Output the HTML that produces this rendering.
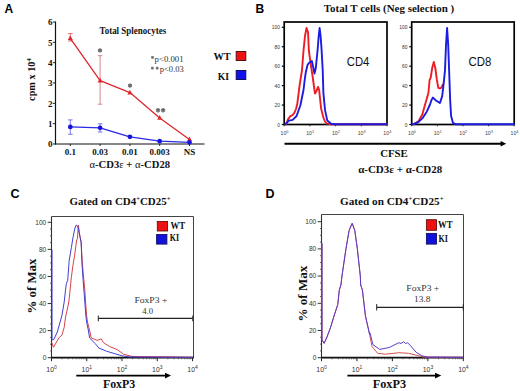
<!DOCTYPE html>
<html><head><meta charset="utf-8"><style>
html,body{margin:0;padding:0;background:#fff;width:520px;height:391px;overflow:hidden;font-family:"Liberation Sans",sans-serif;}
svg{display:block;}
</style></head><body>
<svg width="520" height="391" viewBox="0 0 520 391">
<text x="4.6" y="12.8" font-family='"Liberation Sans", sans-serif' font-size="12" font-weight="bold" text-anchor="start" fill="#000" >A</text>
<text x="255.6" y="13.2" font-family='"Liberation Sans", sans-serif' font-size="12" font-weight="bold" text-anchor="start" fill="#000" >B</text>
<text x="10.4" y="198.0" font-family='"Liberation Sans", sans-serif' font-size="12.5" font-weight="bold" text-anchor="start" fill="#000" >C</text>
<text x="265.4" y="197.7" font-family='"Liberation Sans", sans-serif' font-size="12.5" font-weight="bold" text-anchor="start" fill="#000" >D</text>
<line x1="55.5" y1="21.5" x2="55.5" y2="144.5" stroke="#111" stroke-width="1.2" />
<line x1="55.0" y1="144.0" x2="204.5" y2="144.0" stroke="#111" stroke-width="1.2" />
<line x1="52.8" y1="144.0" x2="55.5" y2="144.0" stroke="#222" stroke-width="1" />
<text x="52.6" y="147.2" font-family='"Liberation Serif", serif' font-size="9" font-weight="bold" text-anchor="end" fill="#111" >0</text>
<line x1="52.8" y1="123.67" x2="55.5" y2="123.67" stroke="#222" stroke-width="1" />
<text x="52.6" y="126.87" font-family='"Liberation Serif", serif' font-size="9" font-weight="bold" text-anchor="end" fill="#111" >1</text>
<line x1="52.8" y1="103.34" x2="55.5" y2="103.34" stroke="#222" stroke-width="1" />
<text x="52.6" y="106.54" font-family='"Liberation Serif", serif' font-size="9" font-weight="bold" text-anchor="end" fill="#111" >2</text>
<line x1="52.8" y1="83.01" x2="55.5" y2="83.01" stroke="#222" stroke-width="1" />
<text x="52.6" y="86.21000000000001" font-family='"Liberation Serif", serif' font-size="9" font-weight="bold" text-anchor="end" fill="#111" >3</text>
<line x1="52.8" y1="62.68000000000001" x2="55.5" y2="62.68000000000001" stroke="#222" stroke-width="1" />
<text x="52.6" y="65.88000000000001" font-family='"Liberation Serif", serif' font-size="9" font-weight="bold" text-anchor="end" fill="#111" >4</text>
<line x1="52.8" y1="42.35000000000001" x2="55.5" y2="42.35000000000001" stroke="#222" stroke-width="1" />
<text x="52.6" y="45.55000000000001" font-family='"Liberation Serif", serif' font-size="9" font-weight="bold" text-anchor="end" fill="#111" >5</text>
<line x1="52.8" y1="22.02000000000001" x2="55.5" y2="22.02000000000001" stroke="#222" stroke-width="1" />
<text x="52.6" y="25.22000000000001" font-family='"Liberation Serif", serif' font-size="9" font-weight="bold" text-anchor="end" fill="#111" >6</text>
<line x1="70.3" y1="144.0" x2="70.3" y2="146.0" stroke="#222" stroke-width="1" />
<text x="70.3" y="155.2" font-family='"Liberation Serif", serif' font-size="9" font-weight="bold" text-anchor="middle" fill="#111" >0.1</text>
<line x1="100.1" y1="144.0" x2="100.1" y2="146.0" stroke="#222" stroke-width="1" />
<text x="100.1" y="155.2" font-family='"Liberation Serif", serif' font-size="9" font-weight="bold" text-anchor="middle" fill="#111" >0.03</text>
<line x1="129.9" y1="144.0" x2="129.9" y2="146.0" stroke="#222" stroke-width="1" />
<text x="129.9" y="155.2" font-family='"Liberation Serif", serif' font-size="9" font-weight="bold" text-anchor="middle" fill="#111" >0.01</text>
<line x1="159.7" y1="144.0" x2="159.7" y2="146.0" stroke="#222" stroke-width="1" />
<text x="159.7" y="155.2" font-family='"Liberation Serif", serif' font-size="9" font-weight="bold" text-anchor="middle" fill="#111" >0.003</text>
<line x1="189.5" y1="144.0" x2="189.5" y2="146.0" stroke="#222" stroke-width="1" />
<text x="189.5" y="155.2" font-family='"Liberation Serif", serif' font-size="9" font-weight="bold" text-anchor="middle" fill="#111" >NS</text>
<text x="89.5" y="167.9" font-family='"Liberation Serif", serif' font-size="10" font-weight="bold" text-anchor="start" fill="#111" textLength="80.5" lengthAdjust="spacingAndGlyphs" ><tspan font-weight="normal">&#945;</tspan>-CD3<tspan font-weight="normal">&#949;</tspan> + <tspan font-weight="normal">&#945;</tspan>-CD28</text>
<text x="99.5" y="33.8" font-family='"Liberation Serif", serif' font-size="9.5" font-weight="bold" text-anchor="start" fill="#111" textLength="66.7" lengthAdjust="spacingAndGlyphs" >Total Splenocytes</text>
<text x="154.6" y="61.8" font-family='"Liberation Serif", serif' font-size="8.5" font-weight="normal" text-anchor="start" fill="#333" textLength="29.0" lengthAdjust="spacingAndGlyphs" >p&lt;0.001</text>
<text x="159.8" y="72.1" font-family='"Liberation Serif", serif' font-size="8.5" font-weight="normal" text-anchor="start" fill="#333" textLength="24.0" lengthAdjust="spacingAndGlyphs" >p&lt;0.03</text>
<text x="213.5" y="60.0" font-family='"Liberation Serif", serif' font-size="10.5" font-weight="bold" text-anchor="start" fill="#111" textLength="17.3" lengthAdjust="spacingAndGlyphs" >WT</text>
<text x="217.7" y="79.7" font-family='"Liberation Serif", serif' font-size="10.5" font-weight="bold" text-anchor="start" fill="#111" textLength="11.3" lengthAdjust="spacingAndGlyphs" >KI</text>
<rect x="236.2" y="51.5" width="9.6" height="9.0" fill="#ee1111" stroke="#551111" stroke-width="1"/>
<rect x="236.2" y="70.5" width="9.6" height="9.0" fill="#1111ee" stroke="#111155" stroke-width="1"/>
<line x1="70.3" y1="33.6" x2="70.3" y2="41" stroke="#e06066" stroke-width="0.9" />
<line x1="68.0" y1="33.6" x2="72.6" y2="33.6" stroke="#e06066" stroke-width="0.9" />
<line x1="68.0" y1="41" x2="72.6" y2="41" stroke="#e06066" stroke-width="0.9" />
<line x1="100.1" y1="55.7" x2="100.1" y2="104.2" stroke="#d07a80" stroke-width="0.9" />
<line x1="97.8" y1="55.7" x2="102.39999999999999" y2="55.7" stroke="#d07a80" stroke-width="0.9" />
<line x1="97.8" y1="104.2" x2="102.39999999999999" y2="104.2" stroke="#d07a80" stroke-width="0.9" />
<line x1="70.3" y1="119.9" x2="70.3" y2="134.3" stroke="#6a6ae6" stroke-width="0.9" />
<line x1="68.0" y1="119.9" x2="72.6" y2="119.9" stroke="#6a6ae6" stroke-width="0.9" />
<line x1="68.0" y1="134.3" x2="72.6" y2="134.3" stroke="#6a6ae6" stroke-width="0.9" />
<line x1="100.1" y1="123.8" x2="100.1" y2="132.0" stroke="#6a6ae6" stroke-width="0.9" />
<line x1="97.8" y1="123.8" x2="102.39999999999999" y2="123.8" stroke="#6a6ae6" stroke-width="0.9" />
<line x1="97.8" y1="132.0" x2="102.39999999999999" y2="132.0" stroke="#6a6ae6" stroke-width="0.9" />
<polyline points="70.3,38.3 100.1,80.6 129.9,92.6 159.7,118.0 189.5,139.5" fill="none" stroke="#e0262c" stroke-width="1.3" stroke-linejoin="round" stroke-linecap="round" />
<polyline points="70.3,126.9 100.1,127.8 129.9,136.8 159.7,141.2 189.5,142.3" fill="none" stroke="#2a2ae6" stroke-width="1.3" stroke-linejoin="round" stroke-linecap="round" />
<polygon points="70.3,35.4 67.8,40.099999999999994 72.8,40.099999999999994" fill="#e0262c"/>
<polygon points="100.1,77.69999999999999 97.6,82.39999999999999 102.6,82.39999999999999" fill="#e0262c"/>
<polygon points="129.9,89.69999999999999 127.4,94.39999999999999 132.4,94.39999999999999" fill="#e0262c"/>
<polygon points="159.7,115.1 157.2,119.8 162.2,119.8" fill="#e0262c"/>
<polygon points="189.5,136.6 187.0,141.3 192.0,141.3" fill="#e0262c"/>
<circle cx="70.3" cy="126.9" r="2.35" fill="#1515dd"/>
<circle cx="100.1" cy="127.8" r="2.35" fill="#1515dd"/>
<circle cx="129.9" cy="136.8" r="2.35" fill="#1515dd"/>
<circle cx="159.7" cy="141.2" r="2.35" fill="#1515dd"/>
<circle cx="189.5" cy="142.3" r="2.35" fill="#1515dd"/>
<line x1="100.0" y1="48.199999999999996" x2="100.0" y2="52.6" stroke="#6a6a6a" stroke-width="1.5" />
<line x1="98.09474411167423" y1="49.3" x2="101.90525588832577" y2="51.5" stroke="#6a6a6a" stroke-width="1.5" />
<line x1="101.90525588832577" y1="49.3" x2="98.09474411167423" y2="51.5" stroke="#6a6a6a" stroke-width="1.5" />
<line x1="130.0" y1="83.39999999999999" x2="130.0" y2="87.8" stroke="#6a6a6a" stroke-width="1.5" />
<line x1="128.09474411167423" y1="84.5" x2="131.90525588832577" y2="86.69999999999999" stroke="#6a6a6a" stroke-width="1.5" />
<line x1="131.90525588832577" y1="84.5" x2="128.09474411167423" y2="86.69999999999999" stroke="#6a6a6a" stroke-width="1.5" />
<line x1="158.0" y1="108.1" x2="158.0" y2="112.5" stroke="#6a6a6a" stroke-width="1.5" />
<line x1="156.09474411167423" y1="109.2" x2="159.90525588832577" y2="111.39999999999999" stroke="#6a6a6a" stroke-width="1.5" />
<line x1="159.90525588832577" y1="109.2" x2="156.09474411167423" y2="111.39999999999999" stroke="#6a6a6a" stroke-width="1.5" />
<line x1="163.1" y1="108.1" x2="163.1" y2="112.5" stroke="#6a6a6a" stroke-width="1.5" />
<line x1="161.19474411167423" y1="109.2" x2="165.00525588832576" y2="111.39999999999999" stroke="#6a6a6a" stroke-width="1.5" />
<line x1="165.00525588832576" y1="109.2" x2="161.19474411167423" y2="111.39999999999999" stroke="#6a6a6a" stroke-width="1.5" />
<line x1="152.5" y1="56.05" x2="152.5" y2="58.75" stroke="#777" stroke-width="1.5" />
<line x1="151.330865704891" y1="56.725" x2="153.669134295109" y2="58.074999999999996" stroke="#777" stroke-width="1.5" />
<line x1="153.669134295109" y1="56.725" x2="151.330865704891" y2="58.074999999999996" stroke="#777" stroke-width="1.5" />
<line x1="152.4" y1="66.75" x2="152.4" y2="69.44999999999999" stroke="#777" stroke-width="1.5" />
<line x1="151.23086570489102" y1="67.425" x2="153.569134295109" y2="68.77499999999999" stroke="#777" stroke-width="1.5" />
<line x1="153.569134295109" y1="67.425" x2="151.23086570489102" y2="68.77499999999999" stroke="#777" stroke-width="1.5" />
<line x1="157.2" y1="66.75" x2="157.2" y2="69.44999999999999" stroke="#777" stroke-width="1.5" />
<line x1="156.030865704891" y1="67.425" x2="158.36913429510898" y2="68.77499999999999" stroke="#777" stroke-width="1.5" />
<line x1="158.36913429510898" y1="67.425" x2="156.030865704891" y2="68.77499999999999" stroke="#777" stroke-width="1.5" />
<text transform="translate(35.3,100.9) rotate(-90)" font-family='"Liberation Serif", serif' font-size="10.5" font-weight="bold" fill="#111" textLength="42.5" lengthAdjust="spacingAndGlyphs">cpm x 10<tspan font-size="6.5" dy="-4">4</tspan></text>
<text x="323.8" y="11.5" font-family='"Liberation Serif", serif' font-size="10.5" font-weight="bold" text-anchor="start" fill="#111" textLength="130.4" lengthAdjust="spacingAndGlyphs" >Total T cells (Neg selection )</text>
<rect x="284.2" y="22.0" width="102.80000000000001" height="102.5" fill="none" stroke="#000" stroke-width="1.7"/>
<line x1="281.8" y1="124.5" x2="284.2" y2="124.5" stroke="#000" stroke-width="1.2" />
<text x="279.9" y="126.6" font-family='"Liberation Sans", sans-serif' font-size="4.9" font-weight="normal" text-anchor="end" fill="#333" >0</text>
<line x1="281.8" y1="105.06" x2="284.2" y2="105.06" stroke="#000" stroke-width="1.2" />
<text x="279.9" y="107.16" font-family='"Liberation Sans", sans-serif' font-size="4.9" font-weight="normal" text-anchor="end" fill="#333" >20</text>
<line x1="281.8" y1="85.62" x2="284.2" y2="85.62" stroke="#000" stroke-width="1.2" />
<text x="279.9" y="87.72" font-family='"Liberation Sans", sans-serif' font-size="4.9" font-weight="normal" text-anchor="end" fill="#333" >40</text>
<line x1="281.8" y1="66.18" x2="284.2" y2="66.18" stroke="#000" stroke-width="1.2" />
<text x="279.9" y="68.28" font-family='"Liberation Sans", sans-serif' font-size="4.9" font-weight="normal" text-anchor="end" fill="#333" >60</text>
<line x1="281.8" y1="46.74000000000001" x2="284.2" y2="46.74000000000001" stroke="#000" stroke-width="1.2" />
<text x="279.9" y="48.84000000000001" font-family='"Liberation Sans", sans-serif' font-size="4.9" font-weight="normal" text-anchor="end" fill="#333" >80</text>
<line x1="281.8" y1="27.299999999999997" x2="284.2" y2="27.299999999999997" stroke="#000" stroke-width="1.2" />
<text x="279.9" y="29.4" font-family='"Liberation Sans", sans-serif' font-size="4.9" font-weight="normal" text-anchor="end" fill="#333" >100</text>
<line x1="284.2" y1="124.5" x2="284.2" y2="126.3" stroke="#000" stroke-width="0.8" />
<text x="284.5" y="135.0" font-family='"Liberation Sans", sans-serif' font-size="5.2" fill="#444" text-anchor="middle">10<tspan font-size="3.8" dy="-2.4">0</tspan></text>
<line x1="309.9" y1="124.5" x2="309.9" y2="126.3" stroke="#000" stroke-width="0.8" />
<text x="310.2" y="135.0" font-family='"Liberation Sans", sans-serif' font-size="5.2" fill="#444" text-anchor="middle">10<tspan font-size="3.8" dy="-2.4">1</tspan></text>
<line x1="335.6" y1="124.5" x2="335.6" y2="126.3" stroke="#000" stroke-width="0.8" />
<text x="335.90000000000003" y="135.0" font-family='"Liberation Sans", sans-serif' font-size="5.2" fill="#444" text-anchor="middle">10<tspan font-size="3.8" dy="-2.4">2</tspan></text>
<line x1="361.3" y1="124.5" x2="361.3" y2="126.3" stroke="#000" stroke-width="0.8" />
<text x="361.6" y="135.0" font-family='"Liberation Sans", sans-serif' font-size="5.2" fill="#444" text-anchor="middle">10<tspan font-size="3.8" dy="-2.4">3</tspan></text>
<line x1="387.0" y1="124.5" x2="387.0" y2="126.3" stroke="#000" stroke-width="0.8" />
<text x="387.3" y="135.0" font-family='"Liberation Sans", sans-serif' font-size="5.2" fill="#444" text-anchor="middle">10<tspan font-size="3.8" dy="-2.4">4</tspan></text>
<rect x="411.7" y="22.0" width="102.50000000000006" height="102.5" fill="none" stroke="#000" stroke-width="1.7"/>
<line x1="409.3" y1="124.5" x2="411.7" y2="124.5" stroke="#000" stroke-width="1.2" />
<text x="407.4" y="126.6" font-family='"Liberation Sans", sans-serif' font-size="4.9" font-weight="normal" text-anchor="end" fill="#333" >0</text>
<line x1="409.3" y1="105.06" x2="411.7" y2="105.06" stroke="#000" stroke-width="1.2" />
<text x="407.4" y="107.16" font-family='"Liberation Sans", sans-serif' font-size="4.9" font-weight="normal" text-anchor="end" fill="#333" >20</text>
<line x1="409.3" y1="85.62" x2="411.7" y2="85.62" stroke="#000" stroke-width="1.2" />
<text x="407.4" y="87.72" font-family='"Liberation Sans", sans-serif' font-size="4.9" font-weight="normal" text-anchor="end" fill="#333" >40</text>
<line x1="409.3" y1="66.18" x2="411.7" y2="66.18" stroke="#000" stroke-width="1.2" />
<text x="407.4" y="68.28" font-family='"Liberation Sans", sans-serif' font-size="4.9" font-weight="normal" text-anchor="end" fill="#333" >60</text>
<line x1="409.3" y1="46.74000000000001" x2="411.7" y2="46.74000000000001" stroke="#000" stroke-width="1.2" />
<text x="407.4" y="48.84000000000001" font-family='"Liberation Sans", sans-serif' font-size="4.9" font-weight="normal" text-anchor="end" fill="#333" >80</text>
<line x1="409.3" y1="27.299999999999997" x2="411.7" y2="27.299999999999997" stroke="#000" stroke-width="1.2" />
<text x="407.4" y="29.4" font-family='"Liberation Sans", sans-serif' font-size="4.9" font-weight="normal" text-anchor="end" fill="#333" >100</text>
<line x1="411.7" y1="124.5" x2="411.7" y2="126.3" stroke="#000" stroke-width="0.8" />
<text x="412.0" y="135.0" font-family='"Liberation Sans", sans-serif' font-size="5.2" fill="#444" text-anchor="middle">10<tspan font-size="3.8" dy="-2.4">0</tspan></text>
<line x1="437.325" y1="124.5" x2="437.325" y2="126.3" stroke="#000" stroke-width="0.8" />
<text x="437.625" y="135.0" font-family='"Liberation Sans", sans-serif' font-size="5.2" fill="#444" text-anchor="middle">10<tspan font-size="3.8" dy="-2.4">1</tspan></text>
<line x1="462.95000000000005" y1="124.5" x2="462.95000000000005" y2="126.3" stroke="#000" stroke-width="0.8" />
<text x="463.25000000000006" y="135.0" font-family='"Liberation Sans", sans-serif' font-size="5.2" fill="#444" text-anchor="middle">10<tspan font-size="3.8" dy="-2.4">2</tspan></text>
<line x1="488.57500000000005" y1="124.5" x2="488.57500000000005" y2="126.3" stroke="#000" stroke-width="0.8" />
<text x="488.87500000000006" y="135.0" font-family='"Liberation Sans", sans-serif' font-size="5.2" fill="#444" text-anchor="middle">10<tspan font-size="3.8" dy="-2.4">3</tspan></text>
<line x1="514.2" y1="124.5" x2="514.2" y2="126.3" stroke="#000" stroke-width="0.8" />
<text x="514.5" y="135.0" font-family='"Liberation Sans", sans-serif' font-size="5.2" fill="#444" text-anchor="middle">10<tspan font-size="3.8" dy="-2.4">4</tspan></text>
<text x="346.8" y="65.9" font-family='"Liberation Sans", sans-serif' font-size="13.7" font-weight="normal" text-anchor="start" fill="#111" textLength="22.6" lengthAdjust="spacingAndGlyphs" >CD4</text>
<text x="468.4" y="66.0" font-family='"Liberation Sans", sans-serif' font-size="13.7" font-weight="normal" text-anchor="start" fill="#111" textLength="22.9" lengthAdjust="spacingAndGlyphs" >CD8</text>
<polyline points="285.5,124.2 286.6,123.4 288.1,119.1 290.4,116.2 292.5,115.2 294.3,113.0 296.0,109.0 297.3,103.8 299.6,85.3 302.0,70.0 303.5,50.7 305.0,36.0 306.5,28.0 308.0,32.0 308.9,50.7 310.4,62.0 312.7,77.0 314.2,88.0 315.0,93.5 316.5,91.0 318.0,86.9 319.2,90.0 319.6,94.5 321.1,108.4 323.4,117.6 325.0,121.5 326.5,123.3 330.0,124.2 387.0,124.2" fill="none" stroke="#ee1c24" stroke-width="1.9" stroke-linejoin="round" stroke-linecap="round" />
<polyline points="285.5,124.2 286.6,123.0 288.9,120.6 292.7,119.9 296.6,116.0 300.4,105.3 303.5,90.0 304.7,80.0 305.8,72.2 307.5,65.0 308.9,63.0 311.9,61.1 313.0,66.0 314.5,73.5 315.8,68.0 317.6,50.0 318.7,36.0 319.6,28.0 320.6,36.0 321.6,50.0 322.7,70.0 323.4,93.0 325.0,109.9 327.3,120.6 331.1,123.7 335.0,124.3 387.0,124.3" fill="none" stroke="#1c1ce0" stroke-width="1.9" stroke-linejoin="round" stroke-linecap="round" />
<polyline points="412.5,124.2 414.6,123.7 418.4,121.4 422.3,114.5 425.3,103.8 428.4,93.0 429.6,80.0 430.7,77.7 432.2,68.0 433.8,62.0 435.3,68.0 436.9,80.0 437.6,84.0 438.4,88.0 440.0,88.4 441.5,87.6 442.8,84.5" fill="none" stroke="#ee1c24" stroke-width="1.9" stroke-linejoin="round" stroke-linecap="round" />
<polyline points="412.5,124.3 413.8,124.0 418.4,122.2 423.0,117.6 426.9,111.4 430.0,104.5 431.5,100.0 433.0,97.6 435.3,99.9 437.5,101.5 439.9,103.0 442.2,96.1 443.8,82.3 445.0,70.0 446.0,45.0 447.1,28.0 448.2,45.0 449.1,70.0 450.2,100.7 451.1,116.0 453.0,122.9 456.0,124.3 514.0,124.3" fill="none" stroke="#1c1ce0" stroke-width="1.9" stroke-linejoin="round" stroke-linecap="round" />
<line x1="284.5" y1="143.75" x2="501" y2="143.75" stroke="#000" stroke-width="1.9" />
<polygon points="500.6,141.1 506.2,143.75 500.6,146.4" fill="#000"/>
<text x="380.2" y="157.4" font-family='"Liberation Serif", serif' font-size="11.4" font-weight="bold" text-anchor="start" fill="#111" textLength="27.6" lengthAdjust="spacingAndGlyphs" >CFSE</text>
<text x="358.2" y="172.5" font-family='"Liberation Serif", serif' font-size="10" font-weight="bold" text-anchor="start" fill="#111" textLength="84" lengthAdjust="spacingAndGlyphs" >&#945;-CD3&#949; + &#945;-CD28</text>
<polyline points="51.5,216.5 193.5,216.5 193.5,357.7" fill="none" stroke="#444" stroke-width="1"/>
<line x1="51.5" y1="216.5" x2="51.5" y2="357.7" stroke="#333" stroke-width="1.1" />
<line x1="51.0" y1="357.7" x2="194.0" y2="357.7" stroke="#111" stroke-width="1.8" />
<line x1="47.7" y1="357.7" x2="51.5" y2="357.7" stroke="#333" stroke-width="1" />
<text x="46.3" y="360.0" font-family='"Liberation Sans", sans-serif' font-size="6.6" font-weight="normal" text-anchor="end" fill="#333" >0</text>
<line x1="47.7" y1="330.62" x2="51.5" y2="330.62" stroke="#333" stroke-width="1" />
<text x="46.3" y="332.92" font-family='"Liberation Sans", sans-serif' font-size="6.6" font-weight="normal" text-anchor="end" fill="#333" >20</text>
<line x1="47.7" y1="303.53999999999996" x2="51.5" y2="303.53999999999996" stroke="#333" stroke-width="1" />
<text x="46.3" y="305.84" font-family='"Liberation Sans", sans-serif' font-size="6.6" font-weight="normal" text-anchor="end" fill="#333" >40</text>
<line x1="47.7" y1="276.46" x2="51.5" y2="276.46" stroke="#333" stroke-width="1" />
<text x="46.3" y="278.76" font-family='"Liberation Sans", sans-serif' font-size="6.6" font-weight="normal" text-anchor="end" fill="#333" >60</text>
<line x1="47.7" y1="249.38" x2="51.5" y2="249.38" stroke="#333" stroke-width="1" />
<text x="46.3" y="251.68" font-family='"Liberation Sans", sans-serif' font-size="6.6" font-weight="normal" text-anchor="end" fill="#333" >80</text>
<line x1="47.7" y1="222.3" x2="51.5" y2="222.3" stroke="#333" stroke-width="1" />
<text x="46.3" y="224.60000000000002" font-family='"Liberation Sans", sans-serif' font-size="6.6" font-weight="normal" text-anchor="end" fill="#333" >100</text>
<line x1="50.0" y1="350.93" x2="51.5" y2="350.93" stroke="#444" stroke-width="0.8" />
<line x1="50.0" y1="344.15999999999997" x2="51.5" y2="344.15999999999997" stroke="#444" stroke-width="0.8" />
<line x1="50.0" y1="337.39" x2="51.5" y2="337.39" stroke="#444" stroke-width="0.8" />
<line x1="50.0" y1="323.85" x2="51.5" y2="323.85" stroke="#444" stroke-width="0.8" />
<line x1="50.0" y1="317.08" x2="51.5" y2="317.08" stroke="#444" stroke-width="0.8" />
<line x1="50.0" y1="310.31" x2="51.5" y2="310.31" stroke="#444" stroke-width="0.8" />
<line x1="50.0" y1="296.77" x2="51.5" y2="296.77" stroke="#444" stroke-width="0.8" />
<line x1="50.0" y1="290.0" x2="51.5" y2="290.0" stroke="#444" stroke-width="0.8" />
<line x1="50.0" y1="283.23" x2="51.5" y2="283.23" stroke="#444" stroke-width="0.8" />
<line x1="50.0" y1="269.69" x2="51.5" y2="269.69" stroke="#444" stroke-width="0.8" />
<line x1="50.0" y1="262.92" x2="51.5" y2="262.92" stroke="#444" stroke-width="0.8" />
<line x1="50.0" y1="256.15" x2="51.5" y2="256.15" stroke="#444" stroke-width="0.8" />
<line x1="50.0" y1="242.61" x2="51.5" y2="242.61" stroke="#444" stroke-width="0.8" />
<line x1="50.0" y1="235.84" x2="51.5" y2="235.84" stroke="#444" stroke-width="0.8" />
<line x1="50.0" y1="229.07" x2="51.5" y2="229.07" stroke="#444" stroke-width="0.8" />
<line x1="51.5" y1="357.7" x2="51.5" y2="361.2" stroke="#222" stroke-width="1" />
<text x="51.6" y="372.3" font-family='"Liberation Sans", sans-serif' font-size="6.9" fill="#333" text-anchor="middle">10<tspan font-size="5" dy="-3.2">0</tspan></text>
<line x1="62.11130734715534" y1="357.7" x2="62.11130734715534" y2="359.3" stroke="#333" stroke-width="0.7" />
<line x1="68.3185242288681" y1="357.7" x2="68.3185242288681" y2="359.3" stroke="#333" stroke-width="0.7" />
<line x1="72.72261469431068" y1="357.7" x2="72.72261469431068" y2="359.3" stroke="#333" stroke-width="0.7" />
<line x1="76.13869265284467" y1="357.7" x2="76.13869265284467" y2="359.3" stroke="#333" stroke-width="0.7" />
<line x1="78.92983157602345" y1="357.7" x2="78.92983157602345" y2="359.3" stroke="#333" stroke-width="0.7" />
<line x1="81.28970591050255" y1="357.7" x2="81.28970591050255" y2="359.3" stroke="#333" stroke-width="0.7" />
<line x1="83.33392204146601" y1="357.7" x2="83.33392204146601" y2="359.3" stroke="#333" stroke-width="0.7" />
<line x1="85.1370484577362" y1="357.7" x2="85.1370484577362" y2="359.3" stroke="#333" stroke-width="0.7" />
<line x1="86.75" y1="357.7" x2="86.75" y2="361.2" stroke="#222" stroke-width="1" />
<text x="86.85" y="372.3" font-family='"Liberation Sans", sans-serif' font-size="6.9" fill="#333" text-anchor="middle">10<tspan font-size="5" dy="-3.2">1</tspan></text>
<line x1="97.36130734715533" y1="357.7" x2="97.36130734715533" y2="359.3" stroke="#333" stroke-width="0.7" />
<line x1="103.5685242288681" y1="357.7" x2="103.5685242288681" y2="359.3" stroke="#333" stroke-width="0.7" />
<line x1="107.97261469431068" y1="357.7" x2="107.97261469431068" y2="359.3" stroke="#333" stroke-width="0.7" />
<line x1="111.38869265284467" y1="357.7" x2="111.38869265284467" y2="359.3" stroke="#333" stroke-width="0.7" />
<line x1="114.17983157602345" y1="357.7" x2="114.17983157602345" y2="359.3" stroke="#333" stroke-width="0.7" />
<line x1="116.53970591050255" y1="357.7" x2="116.53970591050255" y2="359.3" stroke="#333" stroke-width="0.7" />
<line x1="118.58392204146601" y1="357.7" x2="118.58392204146601" y2="359.3" stroke="#333" stroke-width="0.7" />
<line x1="120.3870484577362" y1="357.7" x2="120.3870484577362" y2="359.3" stroke="#333" stroke-width="0.7" />
<line x1="122.0" y1="357.7" x2="122.0" y2="361.2" stroke="#222" stroke-width="1" />
<text x="122.1" y="372.3" font-family='"Liberation Sans", sans-serif' font-size="6.9" fill="#333" text-anchor="middle">10<tspan font-size="5" dy="-3.2">2</tspan></text>
<line x1="132.61130734715533" y1="357.7" x2="132.61130734715533" y2="359.3" stroke="#333" stroke-width="0.7" />
<line x1="138.8185242288681" y1="357.7" x2="138.8185242288681" y2="359.3" stroke="#333" stroke-width="0.7" />
<line x1="143.22261469431066" y1="357.7" x2="143.22261469431066" y2="359.3" stroke="#333" stroke-width="0.7" />
<line x1="146.63869265284467" y1="357.7" x2="146.63869265284467" y2="359.3" stroke="#333" stroke-width="0.7" />
<line x1="149.42983157602345" y1="357.7" x2="149.42983157602345" y2="359.3" stroke="#333" stroke-width="0.7" />
<line x1="151.78970591050256" y1="357.7" x2="151.78970591050256" y2="359.3" stroke="#333" stroke-width="0.7" />
<line x1="153.833922041466" y1="357.7" x2="153.833922041466" y2="359.3" stroke="#333" stroke-width="0.7" />
<line x1="155.6370484577362" y1="357.7" x2="155.6370484577362" y2="359.3" stroke="#333" stroke-width="0.7" />
<line x1="157.25" y1="357.7" x2="157.25" y2="361.2" stroke="#222" stroke-width="1" />
<text x="157.35" y="372.3" font-family='"Liberation Sans", sans-serif' font-size="6.9" fill="#333" text-anchor="middle">10<tspan font-size="5" dy="-3.2">3</tspan></text>
<line x1="167.86130734715533" y1="357.7" x2="167.86130734715533" y2="359.3" stroke="#333" stroke-width="0.7" />
<line x1="174.0685242288681" y1="357.7" x2="174.0685242288681" y2="359.3" stroke="#333" stroke-width="0.7" />
<line x1="178.47261469431066" y1="357.7" x2="178.47261469431066" y2="359.3" stroke="#333" stroke-width="0.7" />
<line x1="181.88869265284467" y1="357.7" x2="181.88869265284467" y2="359.3" stroke="#333" stroke-width="0.7" />
<line x1="184.67983157602345" y1="357.7" x2="184.67983157602345" y2="359.3" stroke="#333" stroke-width="0.7" />
<line x1="187.03970591050256" y1="357.7" x2="187.03970591050256" y2="359.3" stroke="#333" stroke-width="0.7" />
<line x1="189.083922041466" y1="357.7" x2="189.083922041466" y2="359.3" stroke="#333" stroke-width="0.7" />
<line x1="190.8870484577362" y1="357.7" x2="190.8870484577362" y2="359.3" stroke="#333" stroke-width="0.7" />
<line x1="192.5" y1="357.7" x2="192.5" y2="361.2" stroke="#222" stroke-width="1" />
<text x="192.6" y="372.3" font-family='"Liberation Sans", sans-serif' font-size="6.9" fill="#333" text-anchor="middle">10<tspan font-size="5" dy="-3.2">4</tspan></text>
<polyline points="321.5,214.5 463.5,214.5 463.5,357.7" fill="none" stroke="#444" stroke-width="1"/>
<line x1="321.5" y1="214.5" x2="321.5" y2="357.7" stroke="#333" stroke-width="1.1" />
<line x1="321.0" y1="357.7" x2="464.0" y2="357.7" stroke="#111" stroke-width="1.8" />
<line x1="317.7" y1="357.7" x2="321.5" y2="357.7" stroke="#333" stroke-width="1" />
<text x="316.3" y="360.0" font-family='"Liberation Sans", sans-serif' font-size="6.6" font-weight="normal" text-anchor="end" fill="#333" >0</text>
<line x1="317.7" y1="330.5" x2="321.5" y2="330.5" stroke="#333" stroke-width="1" />
<text x="316.3" y="332.8" font-family='"Liberation Sans", sans-serif' font-size="6.6" font-weight="normal" text-anchor="end" fill="#333" >20</text>
<line x1="317.7" y1="303.29999999999995" x2="321.5" y2="303.29999999999995" stroke="#333" stroke-width="1" />
<text x="316.3" y="305.59999999999997" font-family='"Liberation Sans", sans-serif' font-size="6.6" font-weight="normal" text-anchor="end" fill="#333" >40</text>
<line x1="317.7" y1="276.09999999999997" x2="321.5" y2="276.09999999999997" stroke="#333" stroke-width="1" />
<text x="316.3" y="278.4" font-family='"Liberation Sans", sans-serif' font-size="6.6" font-weight="normal" text-anchor="end" fill="#333" >60</text>
<line x1="317.7" y1="248.89999999999998" x2="321.5" y2="248.89999999999998" stroke="#333" stroke-width="1" />
<text x="316.3" y="251.2" font-family='"Liberation Sans", sans-serif' font-size="6.6" font-weight="normal" text-anchor="end" fill="#333" >80</text>
<line x1="317.7" y1="221.7" x2="321.5" y2="221.7" stroke="#333" stroke-width="1" />
<text x="316.3" y="224.0" font-family='"Liberation Sans", sans-serif' font-size="6.6" font-weight="normal" text-anchor="end" fill="#333" >100</text>
<line x1="320.0" y1="350.9" x2="321.5" y2="350.9" stroke="#444" stroke-width="0.8" />
<line x1="320.0" y1="344.09999999999997" x2="321.5" y2="344.09999999999997" stroke="#444" stroke-width="0.8" />
<line x1="320.0" y1="337.3" x2="321.5" y2="337.3" stroke="#444" stroke-width="0.8" />
<line x1="320.0" y1="323.7" x2="321.5" y2="323.7" stroke="#444" stroke-width="0.8" />
<line x1="320.0" y1="316.9" x2="321.5" y2="316.9" stroke="#444" stroke-width="0.8" />
<line x1="320.0" y1="310.09999999999997" x2="321.5" y2="310.09999999999997" stroke="#444" stroke-width="0.8" />
<line x1="320.0" y1="296.5" x2="321.5" y2="296.5" stroke="#444" stroke-width="0.8" />
<line x1="320.0" y1="289.7" x2="321.5" y2="289.7" stroke="#444" stroke-width="0.8" />
<line x1="320.0" y1="282.9" x2="321.5" y2="282.9" stroke="#444" stroke-width="0.8" />
<line x1="320.0" y1="269.29999999999995" x2="321.5" y2="269.29999999999995" stroke="#444" stroke-width="0.8" />
<line x1="320.0" y1="262.5" x2="321.5" y2="262.5" stroke="#444" stroke-width="0.8" />
<line x1="320.0" y1="255.7" x2="321.5" y2="255.7" stroke="#444" stroke-width="0.8" />
<line x1="320.0" y1="242.09999999999997" x2="321.5" y2="242.09999999999997" stroke="#444" stroke-width="0.8" />
<line x1="320.0" y1="235.29999999999998" x2="321.5" y2="235.29999999999998" stroke="#444" stroke-width="0.8" />
<line x1="320.0" y1="228.49999999999997" x2="321.5" y2="228.49999999999997" stroke="#444" stroke-width="0.8" />
<line x1="321.5" y1="357.7" x2="321.5" y2="361.2" stroke="#222" stroke-width="1" />
<text x="321.6" y="372.3" font-family='"Liberation Sans", sans-serif' font-size="6.9" fill="#333" text-anchor="middle">10<tspan font-size="5" dy="-3.2">0</tspan></text>
<line x1="332.1715133462881" y1="357.7" x2="332.1715133462881" y2="359.3" stroke="#333" stroke-width="0.7" />
<line x1="338.413948479812" y1="357.7" x2="338.413948479812" y2="359.3" stroke="#333" stroke-width="0.7" />
<line x1="342.84302669257625" y1="357.7" x2="342.84302669257625" y2="359.3" stroke="#333" stroke-width="0.7" />
<line x1="346.27848665371187" y1="357.7" x2="346.27848665371187" y2="359.3" stroke="#333" stroke-width="0.7" />
<line x1="349.0854618261002" y1="357.7" x2="349.0854618261002" y2="359.3" stroke="#333" stroke-width="0.7" />
<line x1="351.4587255185054" y1="357.7" x2="351.4587255185054" y2="359.3" stroke="#333" stroke-width="0.7" />
<line x1="353.5145400388644" y1="357.7" x2="353.5145400388644" y2="359.3" stroke="#333" stroke-width="0.7" />
<line x1="355.32789695962407" y1="357.7" x2="355.32789695962407" y2="359.3" stroke="#333" stroke-width="0.7" />
<line x1="356.95" y1="357.7" x2="356.95" y2="361.2" stroke="#222" stroke-width="1" />
<text x="357.05" y="372.3" font-family='"Liberation Sans", sans-serif' font-size="6.9" fill="#333" text-anchor="middle">10<tspan font-size="5" dy="-3.2">1</tspan></text>
<line x1="367.6215133462881" y1="357.7" x2="367.6215133462881" y2="359.3" stroke="#333" stroke-width="0.7" />
<line x1="373.86394847981205" y1="357.7" x2="373.86394847981205" y2="359.3" stroke="#333" stroke-width="0.7" />
<line x1="378.29302669257623" y1="357.7" x2="378.29302669257623" y2="359.3" stroke="#333" stroke-width="0.7" />
<line x1="381.72848665371185" y1="357.7" x2="381.72848665371185" y2="359.3" stroke="#333" stroke-width="0.7" />
<line x1="384.5354618261002" y1="357.7" x2="384.5354618261002" y2="359.3" stroke="#333" stroke-width="0.7" />
<line x1="386.9087255185054" y1="357.7" x2="386.9087255185054" y2="359.3" stroke="#333" stroke-width="0.7" />
<line x1="388.9645400388644" y1="357.7" x2="388.9645400388644" y2="359.3" stroke="#333" stroke-width="0.7" />
<line x1="390.77789695962406" y1="357.7" x2="390.77789695962406" y2="359.3" stroke="#333" stroke-width="0.7" />
<line x1="392.4" y1="357.7" x2="392.4" y2="361.2" stroke="#222" stroke-width="1" />
<text x="392.5" y="372.3" font-family='"Liberation Sans", sans-serif' font-size="6.9" fill="#333" text-anchor="middle">10<tspan font-size="5" dy="-3.2">2</tspan></text>
<line x1="403.0715133462881" y1="357.7" x2="403.0715133462881" y2="359.3" stroke="#333" stroke-width="0.7" />
<line x1="409.313948479812" y1="357.7" x2="409.313948479812" y2="359.3" stroke="#333" stroke-width="0.7" />
<line x1="413.7430266925762" y1="357.7" x2="413.7430266925762" y2="359.3" stroke="#333" stroke-width="0.7" />
<line x1="417.17848665371184" y1="357.7" x2="417.17848665371184" y2="359.3" stroke="#333" stroke-width="0.7" />
<line x1="419.98546182610016" y1="357.7" x2="419.98546182610016" y2="359.3" stroke="#333" stroke-width="0.7" />
<line x1="422.35872551850537" y1="357.7" x2="422.35872551850537" y2="359.3" stroke="#333" stroke-width="0.7" />
<line x1="424.4145400388644" y1="357.7" x2="424.4145400388644" y2="359.3" stroke="#333" stroke-width="0.7" />
<line x1="426.22789695962405" y1="357.7" x2="426.22789695962405" y2="359.3" stroke="#333" stroke-width="0.7" />
<line x1="427.85" y1="357.7" x2="427.85" y2="361.2" stroke="#222" stroke-width="1" />
<text x="427.95000000000005" y="372.3" font-family='"Liberation Sans", sans-serif' font-size="6.9" fill="#333" text-anchor="middle">10<tspan font-size="5" dy="-3.2">3</tspan></text>
<line x1="438.52151334628815" y1="357.7" x2="438.52151334628815" y2="359.3" stroke="#333" stroke-width="0.7" />
<line x1="444.76394847981203" y1="357.7" x2="444.76394847981203" y2="359.3" stroke="#333" stroke-width="0.7" />
<line x1="449.19302669257627" y1="357.7" x2="449.19302669257627" y2="359.3" stroke="#333" stroke-width="0.7" />
<line x1="452.6284866537119" y1="357.7" x2="452.6284866537119" y2="359.3" stroke="#333" stroke-width="0.7" />
<line x1="455.4354618261002" y1="357.7" x2="455.4354618261002" y2="359.3" stroke="#333" stroke-width="0.7" />
<line x1="457.8087255185054" y1="357.7" x2="457.8087255185054" y2="359.3" stroke="#333" stroke-width="0.7" />
<line x1="459.86454003886445" y1="357.7" x2="459.86454003886445" y2="359.3" stroke="#333" stroke-width="0.7" />
<line x1="461.6778969596241" y1="357.7" x2="461.6778969596241" y2="359.3" stroke="#333" stroke-width="0.7" />
<line x1="463.3" y1="357.7" x2="463.3" y2="361.2" stroke="#222" stroke-width="1" />
<text x="463.40000000000003" y="372.3" font-family='"Liberation Sans", sans-serif' font-size="6.9" fill="#333" text-anchor="middle">10<tspan font-size="5" dy="-3.2">4</tspan></text>
<text x="69.4" y="204.8" font-family='"Liberation Serif", serif' font-size="10" font-weight="bold" text-anchor="start" fill="#111" textLength="101" lengthAdjust="spacingAndGlyphs" >Gated on CD4<tspan font-size="6" dy="-3.5">+</tspan><tspan dy="3.5">CD25</tspan><tspan font-size="6" dy="-3.5">+</tspan></text>
<text x="340.0" y="204.8" font-family='"Liberation Serif", serif' font-size="10" font-weight="bold" text-anchor="start" fill="#111" textLength="103.5" lengthAdjust="spacingAndGlyphs" >Gated on CD4<tspan font-size="6" dy="-3.5">+</tspan><tspan dy="3.5">CD25</tspan><tspan font-size="6" dy="-3.5">+</tspan></text>
<rect x="157.3" y="221.5" width="10.3" height="9.5" fill="#ee1111" stroke="#661111" stroke-width="0.9"/>
<rect x="156.6" y="234.5" width="10.3" height="9.6" fill="#1111dd" stroke="#111166" stroke-width="0.9"/>
<text x="170.4" y="228.6" font-family='"Liberation Serif", serif' font-size="9.5" font-weight="bold" text-anchor="start" fill="#111" textLength="14.6" lengthAdjust="spacingAndGlyphs" >WT</text>
<text x="169.7" y="241.4" font-family='"Liberation Serif", serif' font-size="9.5" font-weight="bold" text-anchor="start" fill="#111" textLength="9.3" lengthAdjust="spacingAndGlyphs" >KI</text>
<rect x="426.4" y="219.7" width="10.1" height="10.6" fill="#ee1111" stroke="#661111" stroke-width="0.9"/>
<rect x="426.4" y="233.4" width="10.1" height="10.7" fill="#1111dd" stroke="#111166" stroke-width="0.9"/>
<text x="438.0" y="227.9" font-family='"Liberation Serif", serif' font-size="9.5" font-weight="bold" text-anchor="start" fill="#111" textLength="14.5" lengthAdjust="spacingAndGlyphs" >WT</text>
<text x="438.4" y="242.1" font-family='"Liberation Serif", serif' font-size="9.5" font-weight="bold" text-anchor="start" fill="#111" textLength="9.4" lengthAdjust="spacingAndGlyphs" >KI</text>
<line x1="98.3" y1="318.4" x2="192.8" y2="318.4" stroke="#222" stroke-width="1.3" />
<line x1="98.3" y1="315.5" x2="98.3" y2="321.29999999999995" stroke="#222" stroke-width="1" />
<line x1="192.8" y1="315.5" x2="192.8" y2="321.29999999999995" stroke="#222" stroke-width="1" />
<line x1="376.7" y1="307.3" x2="463.3" y2="307.3" stroke="#222" stroke-width="1.3" />
<line x1="376.7" y1="304.1" x2="376.7" y2="310.5" stroke="#222" stroke-width="1" />
<line x1="463.3" y1="304.1" x2="463.3" y2="310.5" stroke="#222" stroke-width="1" />
<text x="134.4" y="303.0" font-family='"Liberation Serif", serif' font-size="8.6" font-weight="normal" text-anchor="start" fill="#333" textLength="33" lengthAdjust="spacingAndGlyphs" >FoxP3 +</text>
<text x="142.2" y="313.9" font-family='"Liberation Serif", serif' font-size="8.6" font-weight="normal" text-anchor="start" fill="#333" textLength="10.8" lengthAdjust="spacingAndGlyphs" >4.0</text>
<text x="406.3" y="290.6" font-family='"Liberation Serif", serif' font-size="8.6" font-weight="normal" text-anchor="start" fill="#333" textLength="33" lengthAdjust="spacingAndGlyphs" >FoxP3 +</text>
<text x="414.0" y="302.1" font-family='"Liberation Serif", serif' font-size="8.6" font-weight="normal" text-anchor="start" fill="#333" textLength="16.5" lengthAdjust="spacingAndGlyphs" >13.8</text>
<text transform="translate(36.2,313.6) rotate(-90)" font-family='"Liberation Serif", serif' font-size="13" font-weight="bold" fill="#111" textLength="55" lengthAdjust="spacingAndGlyphs">% of Max</text>
<text transform="translate(306.9,321.6) rotate(-90)" font-family='"Liberation Serif", serif' font-size="13" font-weight="bold" fill="#111" textLength="56" lengthAdjust="spacingAndGlyphs">% of Max</text>
<line x1="76.3" y1="375.6" x2="166" y2="375.6" stroke="#000" stroke-width="1.9" />
<polygon points="165,372.8 171,375.6 165,378.4" fill="#000"/>
<line x1="347.4" y1="375.6" x2="436" y2="375.6" stroke="#000" stroke-width="1.9" />
<polygon points="435,372.8 441.3,375.6 435,378.4" fill="#000"/>
<text x="102.9" y="387.5" font-family='"Liberation Serif", serif' font-size="12.2" font-weight="bold" text-anchor="start" fill="#111" textLength="32.4" lengthAdjust="spacingAndGlyphs" >FoxP3</text>
<text x="372.7" y="387.7" font-family='"Liberation Serif", serif' font-size="12.2" font-weight="bold" text-anchor="start" fill="#111" textLength="33.4" lengthAdjust="spacingAndGlyphs" >FoxP3</text>
<polyline points="52.0,343.0 53.5,347.3 58.8,338.0 62.0,335.0 64.2,327.3 65.7,316.0 66.5,313.0 68.8,302.0 70.1,290.0 71.4,276.8 72.9,265.8 74.7,254.8 76.5,241.0 77.5,238.2 78.0,230.0 78.4,225.0 79.3,232.7 81.1,241.9 82.4,264.0 83.9,280.5 84.8,290.0 86.5,315.0 87.5,322.0 89.5,330.0 91.2,338.0 97.3,340.4 101.2,338.8 103.5,342.7 109.6,346.5 117.3,349.6 123.5,354.2 132.0,356.5 193.0,357.3" fill="none" stroke="#d8424a" stroke-width="1.0" stroke-linejoin="round" stroke-linecap="round" />
<polyline points="52.0,250.0 52.0,340.0 53.9,339.3 57.3,332.0 60.4,321.0 62.0,315.0 64.2,302.0 65.5,290.0 66.4,283.3 67.7,280.5 69.2,260.3 71.4,247.4 73.2,236.4 74.7,229.0 76.2,225.0 77.5,226.0 78.3,228.0 79.9,236.4 80.6,240.0 81.1,241.9 82.0,264.0 83.0,278.7 83.9,290.0 85.8,315.0 86.6,322.0 88.3,330.0 89.6,338.0 95.8,344.2 98.8,348.0 106.5,351.2 114.2,353.5 122.0,355.8 130.0,357.0 193.0,357.3" fill="none" stroke="#4040d0" stroke-width="1.0" stroke-linejoin="round" stroke-linecap="round" />
<polyline points="322.0,243.7 322.0,340.0 324.1,343.3 327.0,337.0 330.7,327.0 334.0,316.0 337.8,304.4 339.3,290.0 340.9,285.0 342.0,275.9 346.0,248.5 349.1,230.5 351.0,226.0 352.2,223.3 353.5,227.0 354.8,230.5 357.3,248.5 360.3,275.9 360.7,285.0 362.4,290.0 365.4,315.7 369.5,334.0 372.0,346.5 377.7,353.3 385.4,354.2 398.8,352.7 408.5,353.3 416.2,355.2 423.8,357.1 463.0,357.3" fill="none" stroke="#d85050" stroke-width="1.0" stroke-linejoin="round" stroke-linecap="round" />
<polyline points="322.0,243.7 322.0,340.0 324.1,343.3 327.0,337.0 330.7,327.0 334.0,316.0 337.8,304.4 339.3,290.0 340.9,285.0 342.0,275.9 346.0,248.5 349.1,230.5 351.0,226.0 352.2,223.3 353.5,227.0 354.8,230.5 357.3,248.5 360.3,275.9 360.7,285.0 362.4,290.0 365.4,315.7 369.5,334.0 370.0,333.0 372.9,344.6 379.6,349.4 389.2,347.5 395.0,344.6 398.8,342.7 401.0,343.5 403.7,341.7 405.5,343.5 407.5,342.7 410.4,345.6 416.2,352.3 421.9,355.8 427.7,357.1 463.0,357.3" fill="none" stroke="#5a3ad0" stroke-width="1.0" stroke-linejoin="round" stroke-linecap="round" />
</svg>
</body></html>
